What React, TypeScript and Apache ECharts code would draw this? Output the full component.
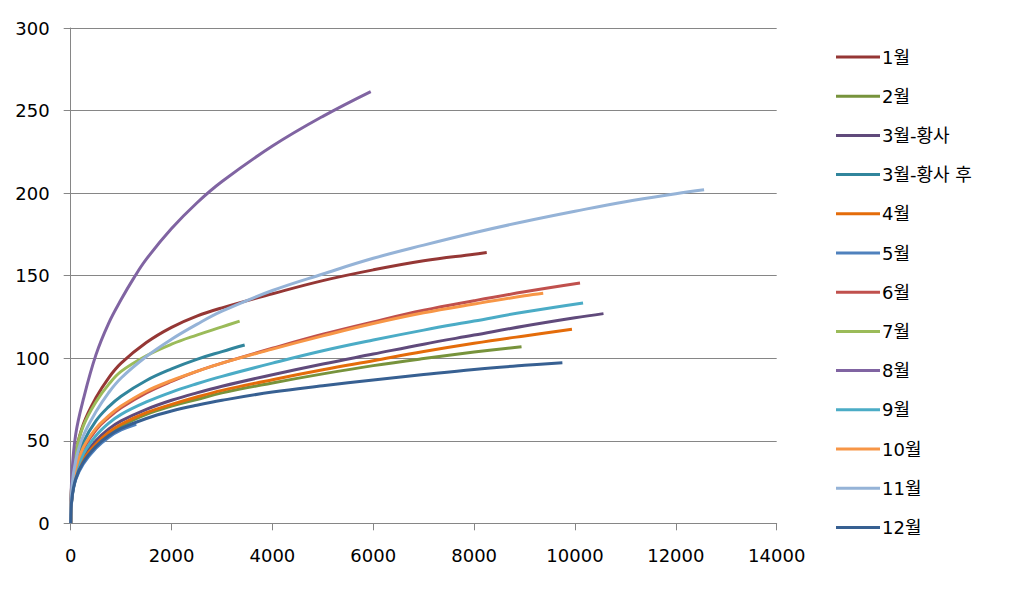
import React, { useEffect, useRef } from "react";
import * as echarts from "echarts";

const seriesNames = ["1월", "2월", "3월-황사", "3월-황사 후", "4월", "5월", "6월", "7월", "8월", "9월", "10월", "11월", "12월"];
const seriesColors = ["#953735", "#77933C", "#604A7B", "#31859C", "#E46C0A", "#4F81BD", "#C0504D", "#9BBB59", "#8064A2", "#4BACC6", "#F79646", "#95B3D7", "#376092"];

const xTicks = { min: 0, max: 14000, interval: 2000 };
const yTicks = { min: 0, max: 300, interval: 50 };

// 1월
const xJan = [0, 25, 100, 250, 500, 750, 1000, 1500, 2000, 2500, 3000, 4000, 5000, 6000, 7000, 8000, 8250];
const yJan = [0, 26, 43, 60, 76, 88, 97, 109.5, 118.7, 125.5, 130.5, 139, 147, 153.5, 159, 163, 164];
// 2월
const xFeb = [0, 25, 100, 250, 500, 750, 1000, 1500, 2000, 2500, 3000, 4000, 5000, 6000, 7000, 8000, 8940];
const yFeb = [0, 15.7, 27.5, 38, 47.5, 54.5, 59, 66, 71, 75, 79, 85, 90.5, 95.5, 99.8, 103.7, 107];
// 3월-황사
const xMarDust = [0, 25, 100, 250, 500, 750, 1000, 1500, 2000, 2500, 3000, 4000, 5000, 6000, 7000, 8000, 9000, 10000, 10565];
const yMarDust = [0, 16.5, 29, 40, 50, 57, 62, 69, 74.5, 79, 83, 90, 96.5, 102.5, 108.5, 114, 119.5, 124.5, 127];
// 3월-황사 후
const xMarAfter = [0, 25, 100, 250, 500, 750, 1000, 1500, 2000, 2500, 3000, 3450];
const yMarAfter = [0, 20, 35.5, 49, 62, 70.5, 77, 86.5, 93.5, 99.3, 104, 108];
// 4월
const xApr = [0, 25, 100, 250, 500, 750, 1000, 1500, 2000, 2500, 3000, 4000, 5000, 6000, 7000, 8000, 9000, 9940];
const yApr = [0, 16, 28, 38.5, 48, 55, 60, 67, 72, 76.5, 80.5, 87, 93, 98.5, 104, 109, 113.5, 117.5];
// 5월
const xMay = [0, 25, 100, 250, 500, 750, 1000, 1300];
const yMay = [0, 15, 26.5, 36, 45.5, 52, 56.5, 60];
// 6월
const xJun = [0, 25, 100, 250, 500, 750, 1000, 1500, 2000, 2500, 3000, 4000, 5000, 6000, 7000, 8000, 9000, 10100];
const yJun = [0, 19, 33, 45, 56.5, 64, 70, 79, 86, 92, 97, 106, 114.5, 122, 129, 134.8, 140.2, 145.5];
// 7월
const xJul = [0, 25, 100, 250, 500, 750, 1000, 1500, 2000, 2500, 3000, 3350];
const yJul = [0, 26, 43, 59, 73.5, 84, 92, 101.5, 108.5, 114, 119, 122.5];
// 8월
const xAug = [0, 25, 100, 250, 500, 750, 1000, 1250, 1500, 2000, 2500, 3000, 4000, 5000, 5950];
const yAug = [0, 30, 54, 75, 102, 121, 135.5, 148.5, 160, 178.5, 194, 207, 228.5, 246.5, 261.5];
// 9월
const xSep = [0, 25, 100, 250, 500, 750, 1000, 1500, 2000, 2500, 3000, 4000, 5000, 6000, 7000, 8000, 9000, 10160];
const ySep = [0, 17.5, 30.5, 42, 53, 60.5, 66, 73.5, 79.5, 84.5, 89, 97, 104.5, 111, 117, 122.5, 128, 133.5];
// 10월
const xOct = [0, 25, 100, 250, 500, 750, 1000, 1500, 2000, 2500, 3000, 4000, 5000, 6000, 7000, 8000, 9000, 9370];
const yOct = [0, 19, 33.5, 46, 57.5, 65, 71, 80, 86.5, 92, 97, 105.5, 113.5, 121, 127.5, 132.8, 137.8, 139.3];
// 11월
const xNov = [0, 25, 100, 250, 500, 750, 1000, 1500, 2000, 2500, 3000, 4000, 5000, 6000, 7000, 8000, 9000, 10000, 11000, 12000, 12560];
const yNov = [0, 22, 38, 53, 67.5, 79, 88, 101, 111.5, 120.5, 128.5, 141, 151, 160.5, 168.5, 176, 182.8, 189, 194.8, 199.6, 202];
// 12월
const xDec = [0, 25, 100, 250, 500, 750, 1000, 1500, 2000, 2500, 3000, 4000, 5000, 6000, 7000, 8000, 9000, 9750];
const yDec = [0, 15.4, 27, 37, 46.5, 53, 57.5, 63.5, 68, 71.5, 74.5, 79.5, 83.3, 86.8, 90.1, 93.2, 95.7, 97.3];

const seriesX = [xJan, xFeb, xMarDust, xMarAfter, xApr, xMay, xJun, xJul, xAug, xSep, xOct, xNov, xDec];
const seriesY = [yJan, yFeb, yMarDust, yMarAfter, yApr, yMay, yJun, yJul, yAug, ySep, yOct, yNov, yDec];

const FONT = "'DejaVu Sans', 'Noto Sans CJK KR', sans-serif";

export default function App() {
  const ref = useRef<HTMLDivElement>(null);
  useEffect(() => {
    if (!ref.current) return;
    const chart = echarts.init(ref.current, undefined, { renderer: "svg" });
    const series = seriesNames.map((name, i) => ({
      name,
      type: "line",
      data: seriesX[i].map((x, j) => [x, seriesY[i][j]]),
      showSymbol: false,
      symbol: "none",
      smooth: 0.4,
      lineStyle: { width: 3, color: seriesColors[i] },
      itemStyle: { color: seriesColors[i] },
      emphasis: { disabled: true },
    }));
    chart.setOption({
      animation: false,
      backgroundColor: "#ffffff",
      grid: { left: 70.7, right: 237.3, top: 28, bottom: 65.7, containLabel: false },
      xAxis: {
        type: "value",
        min: xTicks.min,
        max: xTicks.max,
        interval: xTicks.interval,
        axisLine: { show: true, lineStyle: { color: "#868686", width: 1 } },
        axisTick: { show: true, length: 7, lineStyle: { color: "#868686" } },
        splitLine: { show: false },
        axisLabel: { color: "#000", fontSize: 18, fontFamily: FONT, margin: 23, formatter: (v: number) => String(v) },
      },
      yAxis: {
        type: "value",
        min: yTicks.min,
        max: yTicks.max,
        interval: yTicks.interval,
        axisLine: { show: true, lineStyle: { color: "#868686", width: 1 } },
        axisTick: { show: true, length: 7, lineStyle: { color: "#868686" } },
        splitLine: { show: true, lineStyle: { color: "#868686", width: 1 } },
        axisLabel: { color: "#000", fontSize: 18, fontFamily: FONT, margin: 21, formatter: (v: number) => String(v) },
      },
      legend: {
        orient: "vertical",
        left: 836,
        top: 47,
        padding: 0,
        itemWidth: 44,
        itemHeight: 3,
        itemGap: 19.2,
        icon: "rect",
        selectedMode: false,
        textStyle: { color: "#000", fontSize: 18, fontFamily: FONT, lineHeight: 20, padding: [0, 0, 0, -3] },
        data: seriesNames,
      },
      series,
    });
    return () => chart.dispose();
  }, []);
  return (
    <div
      ref={ref}
      style={{ position: "fixed", left: 0, top: 0, width: 1014, height: 589, background: "#fff" }}
    />
  );
}
